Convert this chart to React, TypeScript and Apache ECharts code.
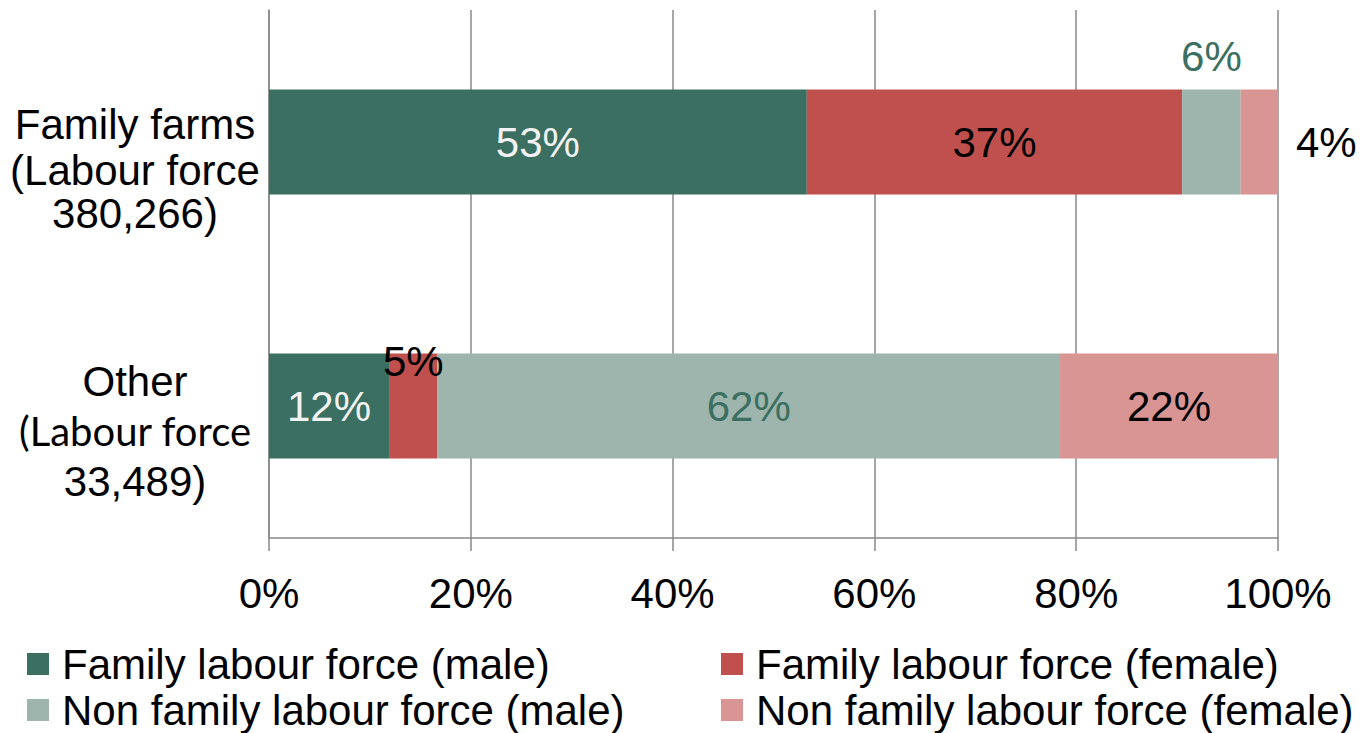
import React, { useEffect, useRef } from "react";
import * as echarts from "echarts";

const categories = ["Family farms", "Other"];
const categoryLines = [
  ["Family farms", "(Labour force", "380,266)"],
  ["Other", "(Labour force", "33,489)"],
];
const seriesNames = [
  "Family labour force (male)",
  "Family labour force (female)",
  "Non family labour force (male)",
  "Non family labour force (female)",
];
const familyMale = [53.3, 11.9];
const familyFemale = [37.2, 4.8];
const nonFamilyMale = [5.8, 61.7];
const nonFamilyFemale = [3.7, 21.6];
const xTicks = [0, 20, 40, 60, 80, 100];

const COLORS = ["#3b6f61", "#c0504d", "#9db5ac", "#d99594"];
const FONT = "'Liberation Sans', Arial, sans-serif";
const FS = 42;

export default function App() {
  const ref = useRef<HTMLDivElement>(null);

  useEffect(() => {
    if (!ref.current) return;
    const chart = echarts.init(ref.current, null, { renderer: "svg" });

    const values = [familyMale, familyFemale, nonFamilyMale, nonFamilyFemale];

    const itemLabels: any[][] = [
      [
        { color: "#f2f2f2" },
        { color: "#f2f2f2" },
      ],
      [
        { color: "#000" },
        { color: "#000", position: ["50%", 8], align: "center", verticalAlign: "middle" },
      ],
      [
        { color: COLORS[0], position: "top", distance: 12 },
        { color: COLORS[0] },
      ],
      [
        { color: "#000", position: "right", distance: 18 },
        { color: "#000" },
      ],
    ];

    const series = seriesNames.map((name, si) => ({
      name,
      type: "bar",
      stack: "total",
      barWidth: 105,
      itemStyle: { color: COLORS[si] },
      label: {
        show: true,
        position: "inside",
        fontFamily: FONT,
        fontSize: FS,
        formatter: (p: any) => Math.round(p.value) + "%",
      },
      data: values[si].map((v, ci) => ({
        value: v,
        label: itemLabels[si][ci],
      })),
    }));

    const legendPos = [
      { left: 27, top: 643 },
      { left: 721, top: 643 },
      { left: 27, top: 689 },
      { left: 721, top: 689 },
    ];

    const legends = seriesNames.map((name, i) => ({
      orient: "horizontal",
      left: legendPos[i].left,
      top: legendPos[i].top,
      padding: 0,
      itemWidth: 22,
      itemHeight: 22,
      icon: "rect",
      data: [name],
      textStyle: {
        fontFamily: FONT,
        fontSize: FS,
        lineHeight: 42,
        color: "#000",
        padding: [0, 0, 0, 8],
      },
    }));

    const option: any = {
      animation: false,
      backgroundColor: "#ffffff",
      textStyle: { fontFamily: FONT },
      grid: { left: 269, right: 84, top: 10, bottom: 195, containLabel: false },
      xAxis: {
        type: "value",
        min: xTicks[0],
        max: xTicks[xTicks.length - 1],
        interval: 20,
        axisLine: { show: true, lineStyle: { color: "#898989", width: 1.5 } },
        axisTick: { show: true, length: 13, lineStyle: { color: "#898989", width: 1.5 } },
        splitLine: { show: true, lineStyle: { color: "#898989", width: 1.5 } },
        axisLabel: {
          formatter: "{value}%",
          color: "#000",
          fontFamily: FONT,
          fontSize: FS,
          margin: 34,
        },
      },
      yAxis: {
        type: "category",
        inverse: true,
        data: categories,
        axisLine: { show: true, lineStyle: { color: "#898989", width: 1.5 } },
        axisTick: { show: false },
        axisLabel: {
          margin: 134,
          align: "center",
          verticalAlign: "middle",
          padding: [50, 0, 0, 0],
          formatter: (v: string) => {
            const idx = categories.indexOf(v);
            const lines = categoryLines[idx];
            if (idx === 0) {
              return `{a|${lines[0]}}\n{a|${lines[1]}}\n{a3|${lines[2]}}`;
            }
            return `{b|${lines[0]}}\n{c|${lines[1]}}\n{b|${lines[2]}}`;
          },
          rich: {
            a: { fontFamily: FONT, fontSize: FS, lineHeight: 46, color: "#000" },
            a3: { fontFamily: FONT, fontSize: FS, lineHeight: 40, color: "#000" },
            b: { fontFamily: FONT, fontSize: FS, lineHeight: 50, color: "#000" },
            c: { fontFamily: "Lato, 'Liberation Sans', sans-serif", fontSize: 40, lineHeight: 50, color: "#000" },
          },
        },
      },
      legend: legends,
      series,
    };

    chart.setOption(option);
    return () => chart.dispose();
  }, []);

  return (
    <div
      ref={ref}
      style={{ position: "fixed", left: 0, top: 0, width: 1362, height: 733, background: "#fff" }}
    />
  );
}
